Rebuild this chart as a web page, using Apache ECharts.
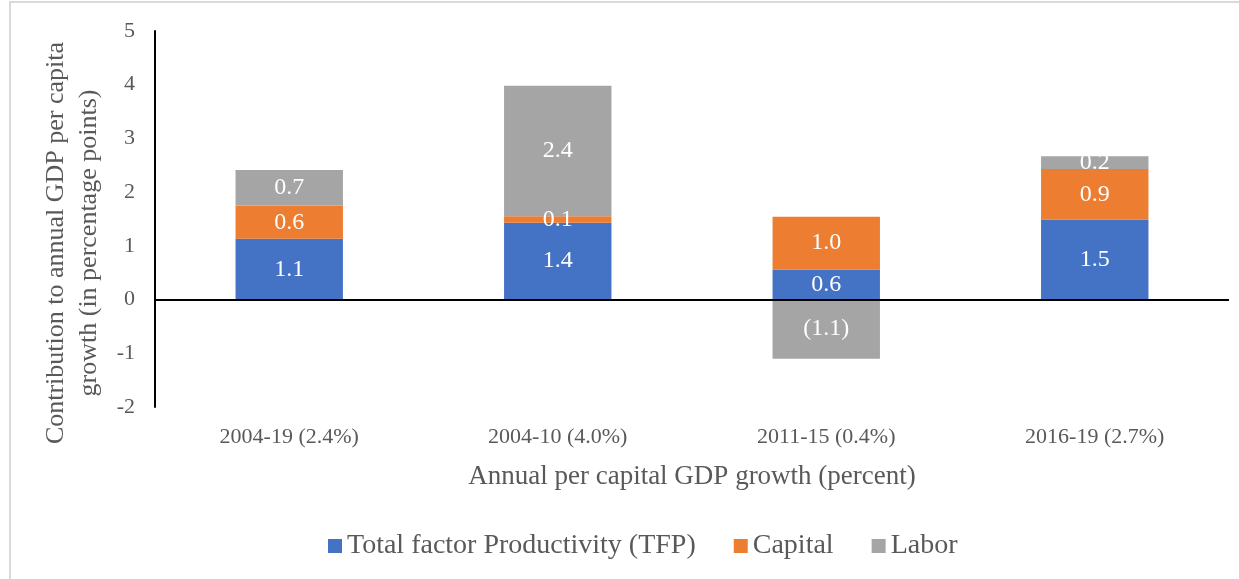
<!DOCTYPE html>
<html>
<head>
<meta charset="utf-8">
<script src="https://cdn.jsdelivr.net/npm/echarts@6/dist/echarts.min.js"></script>
<style>
  html, body { margin: 0; padding: 0; background: #fff; }
  #chart { width: 1239px; height: 579px; }
</style>
</head>
<body>
<div id="chart"></div>
<script>
// periods on the x axis
var categories = ['2004-19 (2.4%)', '2004-10 (4.0%)', '2011-15 (0.4%)', '2016-19 (2.7%)']
// contributions, percentage points
var tfp = [1.13, 1.43, 0.56, 1.49]
var capital = [0.62, 0.12, 0.98, 0.94]
var labor = [0.66, 2.43, -1.10, 0.24]
var yTicks = [-2, -1, 0, 1, 2, 3, 4, 5]

var textGray = '#595959'
var serif = '"Liberation Serif", "DejaVu Serif", serif'

function fmt(p) {
    var v = p.value
    if (v < 0) return '(' + Math.abs(v).toFixed(1) + ')'
    return v.toFixed(1)
}

function barSeries(name, data, color) {
    return {
        name: name,
        type: 'bar',
        stack: 'total',
        barWidth: '40%',
        data: data,
        itemStyle: { color: color },
        label: {
            show: true,
            position: 'inside',
            formatter: fmt,
            color: '#fff',
            fontFamily: serif,
            fontSize: 24
        }
    }
}

var chart = echarts.init(document.getElementById('chart'))

var series = [
    barSeries('Total factor Productivity (TFP)', tfp, '#4472c4'),
    barSeries('Capital', capital, '#ed7d31'),
    barSeries('Labor', labor, '#a5a5a5')
]
// zero line across the plot
series[0].markLine = {
    silent: true,
    symbol: 'none',
    label: { show: false },
    lineStyle: { color: '#000', width: 2, type: 'solid' },
    data: [{ yAxis: 0 }]
}

var option = {
    animation: false,
    textStyle: { fontFamily: serif },
    graphic: [{
        type: 'rect',
        shape: { x: 10, y: 2, width: 1260, height: 600 },
        style: { fill: 'none', stroke: '#d9d9d9', lineWidth: 2 },
        silent: true
    }],
    grid: { left: 155, right: 10, top: 31, bottom: 172, outerBoundsMode: 'none', containLabel: false },
    legend: {
        bottom: 14,
        left: 323,
        itemWidth: 14,
        itemHeight: 14,
        itemGap: 38,
        icon: 'rect',
        textStyle: { color: textGray, fontFamily: serif, fontSize: 28 },
        data: series.map(function (s) { return s.name })
    },
    xAxis: {
        type: 'category',
        data: categories,
        axisLine: { show: false, onZero: false },
        axisTick: { show: false },
        axisLabel: { color: textGray, fontFamily: serif, fontSize: 22, margin: 19 },
        name: 'Annual per capital GDP growth (percent)',
        nameLocation: 'middle',
        nameGap: 56,
        nameTextStyle: { color: textGray, fontFamily: serif, fontSize: 27 }
    },
    yAxis: {
        type: 'value',
        min: yTicks[0],
        max: yTicks[yTicks.length - 1],
        interval: 1,
        splitLine: { show: false },
        axisLine: { show: true, lineStyle: { color: '#000', width: 2 } },
        axisTick: { show: false },
        axisLabel: { color: textGray, fontFamily: serif, fontSize: 22, margin: 20 },
        name: 'Contribution to annual GDP per capita\ngrowth (in percentage points)',
        nameLocation: 'middle',
        nameGap: 41,
        nameRotate: 90,
        nameTextStyle: {
            color: textGray, fontFamily: serif, fontSize: 26, lineHeight: 33,
            align: 'center', padding: [0, 48, 0, 0]
        }
    },
    series: series
}

chart.setOption(option)
</script>
</body>
</html>
